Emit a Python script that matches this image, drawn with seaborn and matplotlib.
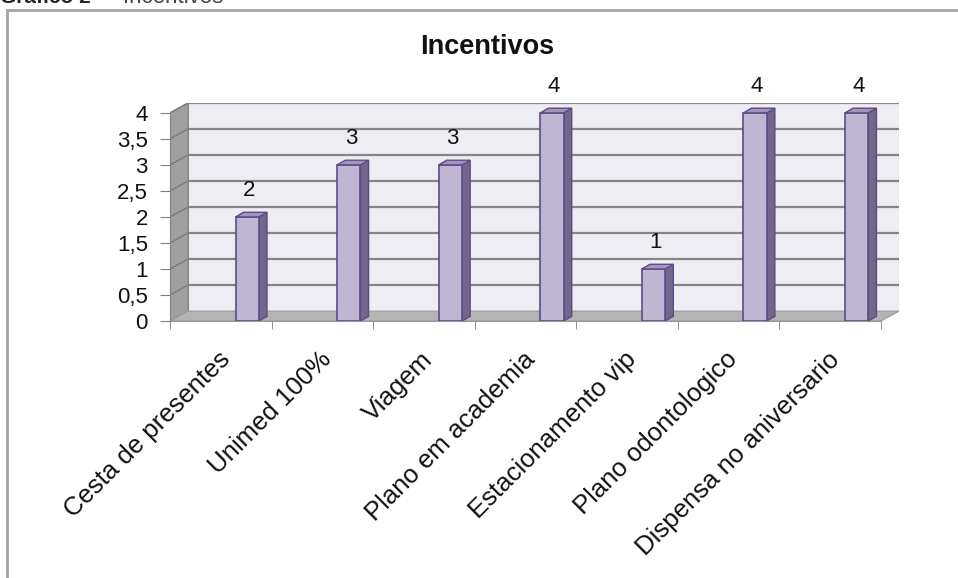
import matplotlib
matplotlib.use('Agg')
import matplotlib.pyplot as plt
import seaborn as sns
from matplotlib.patches import Polygon, Rectangle

# data
categories = ['Cesta de presentes', 'Unimed 100%', 'Viagem', 'Plano em academia',
              'Estacionamento vip', 'Plano odontologico', 'Dispensa no aniversario']
values = [2, 3, 3, 4, 1, 4, 4]
yticks = [0, 0.5, 1, 1.5, 2, 2.5, 3, 3.5, 4]
ytick_labels = ['0', '0,5', '1', '1,5', '2', '2,5', '3', '3,5', '4']

sns.set_style('white')
plt.rcParams['font.family'] = ['Liberation Sans', 'DejaVu Sans']

fig = plt.figure(figsize=(9.58, 5.78), dpi=100)
ax = fig.add_axes([170 / 958, 1 - 321 / 578, 729 / 958, 218 / 578])

# 3d look: depth offsets for walls and bars
dx, dy = 0.177, 0.19
bar_shift, bar_w = 0.26, 0.23
bdx, bdy = 0.08, 0.09

front = '#bdb3d5'
edge = '#5f4a86'
side = '#72668a'
top = '#a195c0'

sns.barplot(x=categories, y=values, color=front, width=bar_w,
            edgecolor=edge, linewidth=1.2, ax=ax, zorder=4)
bars = list(ax.patches)

n = len(categories)
x0, x1 = -0.5, n - 0.5
ymax = yticks[-1]

# back wall, left wall, floor
ax.add_patch(Rectangle((x0 + dx, dy), n, ymax, facecolor='#eeedf3',
                       edgecolor='none', zorder=1))
ax.add_patch(Polygon([(x0, 0), (x0 + dx, dy), (x0 + dx, ymax + dy), (x0, ymax)],
                     facecolor='#a0a0a0', edgecolor='#8a8a8a', lw=0.8, zorder=1))
ax.add_patch(Polygon([(x0, 0), (x1, 0), (x1 + dx, dy), (x0 + dx, dy)],
                     facecolor='#b4b4b4', edgecolor='#9a9a9a', lw=0.8, zorder=2))
for v in yticks[1:]:
    ax.plot([x0 + dx, x1 + dx], [v + dy, v + dy], color='#858585', lw=1.6, zorder=1.5)
    ax.plot([x0, x0 + dx], [v, v + dy], color='#7a7a7a', lw=1.0, zorder=1.5)
ax.plot([x0 + dx, x0 + dx], [dy, ymax + dy], color='#8a8a8a', lw=0.8, zorder=1.5)

# shift bars into the box and add side / top faces
for b, v in zip(bars, values):
    b.set_x(b.get_x() + bar_shift)
    xl, w = b.get_x(), b.get_width()
    ax.add_patch(Polygon([(xl + w, 0), (xl + w + bdx, bdy), (xl + w + bdx, v + bdy), (xl + w, v)],
                         facecolor=side, edgecolor=edge, lw=1.0, zorder=3.5))
    ax.add_patch(Polygon([(xl, v), (xl + w, v), (xl + w + bdx, v + bdy), (xl + bdx, v + bdy)],
                         facecolor=top, edgecolor=edge, lw=1.0, zorder=4.5))
    ax.text(xl + w / 2 + 0.02, v + 0.31, str(v), ha='center', va='bottom',
            fontsize=16, color='#111111', zorder=6)

ax.set_xlim(x0, x1 + dx)
ax.set_ylim(0, ymax + dy)
ax.set_facecolor('none')
for s in ['top', 'right']:
    ax.spines[s].set_visible(False)
ax.spines['left'].set_bounds(0, ymax)
ax.spines['bottom'].set_bounds(x0, x1)
ax.spines['left'].set_color('#808080')
ax.spines['bottom'].set_color('#9a9a9a')
ax.spines['left'].set_zorder(5)

ax.set_yticks(yticks)
ax.set_yticklabels(ytick_labels, fontsize=16, color='#111111')
ax.tick_params(axis='y', length=7, color='#808080', pad=9, left=True, direction='out')

ax.set_xticks([i - 0.03 for i in range(n)])
ax.set_xticklabels(categories, rotation=45, ha='right', va='top',
                   rotation_mode='anchor', fontsize=18.5, color='#111111')
ax.set_xticks([i - 0.5 for i in range(n + 1)], minor=True)
ax.tick_params(axis='x', which='major', length=0, pad=19)
ax.tick_params(axis='x', which='minor', length=6, color='#808080', bottom=True, direction='out')
ax.set_xlabel('')
ax.set_ylabel('')

fig.text(487 / 958, 1 - 47 / 578, 'Incentivos', ha='center', va='center',
         fontsize=19.5, fontweight='bold', color='#111111')

# cropped caption and frame of the original figure
fig.text(0, 1 - 3 / 578, 'Gráfico 2 –', ha='left', va='baseline',
         fontsize=15, fontweight='bold', color='#222222')
fig.text(123 / 958, 1 - 3 / 578, 'Incentivos', ha='left', va='baseline',
         fontsize=16, color='#444444')
fig.add_artist(Rectangle((7 / 958, -0.1), 1.2, 1 - 10 / 578 + 0.1,
                         transform=fig.transFigure, fill=False,
                         edgecolor='#a6a6a6', lw=2))

fig.savefig('out.png', dpi=100)
